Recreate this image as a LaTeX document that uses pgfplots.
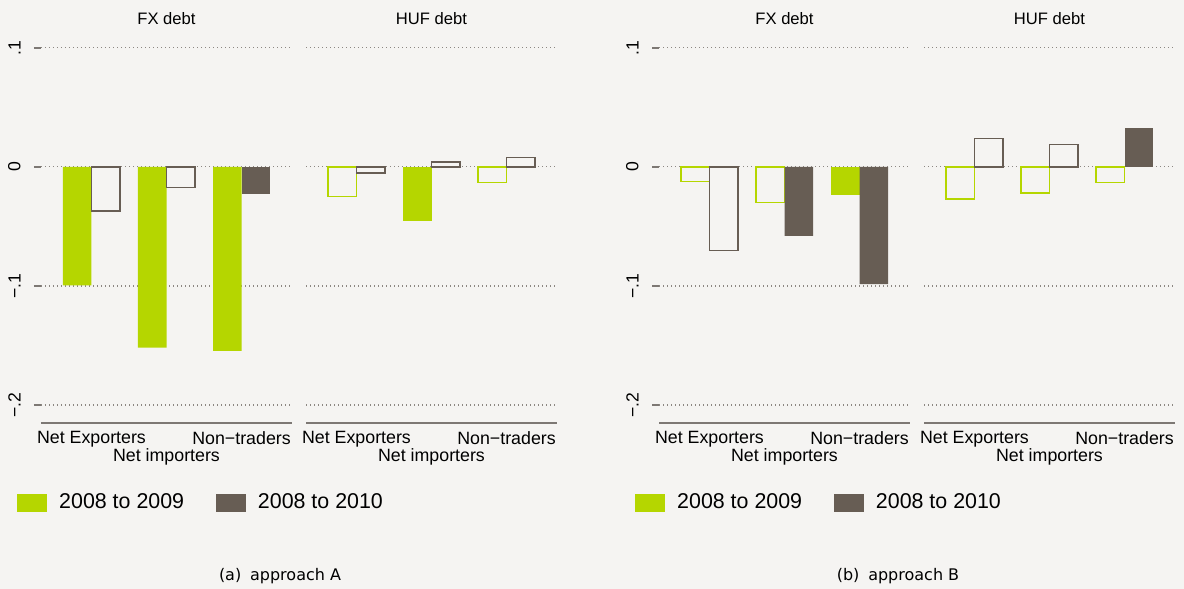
\documentclass[border=0pt]{standalone}
\usepackage{fontspec}
\setmainfont{Liberation Sans}
\newfontfamily\capfont{DejaVu Sans}
\usepackage{pgfplots}
\pgfplotsset{compat=1.18}
\definecolor{bg}{RGB}{245,244,242}
\definecolor{lime}{RGB}{181,214,0}
\definecolor{taupe}{RGB}{103,93,84}
\definecolor{axgrey}{RGB}{125,120,116}
\definecolor{gridgrey}{RGB}{140,135,130}

\pgfplotsset{
  panel/.style={
    scale only axis, width=125.5pt, height=193.5pt, anchor=south west,
    xmin=0.327, xmax=3.673, ymin=-0.2151, ymax=0.11,
    axis x line*=bottom, axis y line*=left,
    x axis line style={draw=axgrey, line width=1pt, -},
    y axis line style={draw=none, -},
    xtick={1,3}, xticklabels={Net Exporters, Non−traders},
    extra x ticks={2}, extra x tick labels={Net importers},
    extra x tick style={xticklabel style={yshift=-8.3pt}, xtick style={draw=none}},
    xtick style={draw=none},
    xticklabel style={anchor=north, inner sep=0pt, yshift=-0.6pt, font=\fontsize{8.9}{10}\selectfont},
    ytick={-0.2,-0.1,0,0.1},
    ymajorgrids,
    grid style={gridgrey, line width=0.55pt, dash pattern=on 0.5pt off 1.5pt},
    title style={at={(0.5,1)}, anchor=center, yshift=2.5pt, font=\fontsize{8.3}{10}\selectfont},
    tick align=outside, major tick length=3.5pt,
  },
  leftpanel/.style={panel,
    yticklabels={−.2,−.1,0,.1},
    ytick style={draw=axgrey, line width=0.6pt},
    yticklabel style={rotate=90, anchor=south, inner sep=0pt, yshift=6.5pt, font=\fontsize{8.8}{10}\selectfont},
    legend style={at={(-0.0956,-0.2054)}, anchor=west, draw=none, fill=none, inner sep=0pt,
      legend columns=2, font=\fontsize{10.7}{12}\selectfont,
      nodes={inner sep=0pt},
      /tikz/every odd column/.append style={column sep=6pt},
      /tikz/every even column/.append style={column sep=16pt}},
    legend cell align=left,
  },
  rightpanel/.style={panel,
    yticklabels={}, ytick style={draw=none},
  },
  gf/.style={ybar, bar width=0.38, bar shift=-0.19, fill=lime, draw=none, forget plot},
  gh/.style={ybar, bar width=0.38, bar shift=-0.19, fill=bg, draw=lime, line width=0.7pt, forget plot},
  df/.style={ybar, bar width=0.38, bar shift=0.19, fill=taupe, draw=none, forget plot},
  dh/.style={ybar, bar width=0.38, bar shift=0.19, fill=bg, draw=taupe, line width=0.7pt, forget plot},
}

\begin{document}
\begin{tikzpicture}
\useasboundingbox (0,0) rectangle (592pt,-294.5pt);
\fill[bg] (0,0) rectangle (592pt,-294.5pt);

% ---------- Panel A, FX debt ----------
\begin{axis}[leftpanel, at={(20.5pt,-211.5pt)}, title={FX debt}]
\addplot[gf] coordinates {(1,-0.0994) (2,-0.1518) (3,-0.1546)};
\addplot[dh] coordinates {(1,-0.0370) (2,-0.0173)};
\addplot[df] coordinates {(3,-0.0224)};
\addlegendimage{legend image code/.code={\fill[lime] (0pt,-4.25pt) rectangle (14.5pt,4.25pt);}}
\addlegendentry{2008 to 2009}
\addlegendimage{legend image code/.code={\fill[taupe] (0pt,-4.25pt) rectangle (14.5pt,4.25pt);}}
\addlegendentry{2008 to 2010}
\end{axis}

% ---------- Panel A, HUF debt ----------
\begin{axis}[rightpanel, at={(153pt,-211.5pt)}, title={HUF debt}]
\addplot[gh] coordinates {(1,-0.025) (3,-0.013)};
\addplot[gf] coordinates {(2,-0.045)};
\addplot[dh] coordinates {(1,-0.005) (2,0.004) (3,0.008)};
\end{axis}

% ---------- Panel B, FX debt ----------
\begin{axis}[leftpanel, at={(329.5pt,-211.5pt)}, title={FX debt}]
\addplot[gh] coordinates {(1,-0.012) (2,-0.030)};
\addplot[gf] coordinates {(3,-0.0235)};
\addplot[dh] coordinates {(1,-0.070)};
\addplot[df] coordinates {(2,-0.058) (3,-0.0985)};
\addlegendimage{legend image code/.code={\fill[lime] (0pt,-4.25pt) rectangle (14.5pt,4.25pt);}}
\addlegendentry{2008 to 2009}
\addlegendimage{legend image code/.code={\fill[taupe] (0pt,-4.25pt) rectangle (14.5pt,4.25pt);}}
\addlegendentry{2008 to 2010}
\end{axis}

% ---------- Panel B, HUF debt ----------
\begin{axis}[rightpanel, at={(462pt,-211.5pt)}, title={HUF debt}]
\addplot[gh] coordinates {(1,-0.027) (2,-0.022) (3,-0.013)};
\addplot[dh] coordinates {(1,0.024) (2,0.019)};
\addplot[df] coordinates {(3,0.0325)};
\end{axis}

\node[font=\capfont\fontsize{8}{10}\selectfont, anchor=base] at (140pt,-290pt) {(a)\hspace{0.55em}approach A};
\node[font=\capfont\fontsize{8}{10}\selectfont, anchor=base] at (449pt,-290pt) {(b)\hspace{0.55em}approach B};
\end{tikzpicture}
\end{document}
